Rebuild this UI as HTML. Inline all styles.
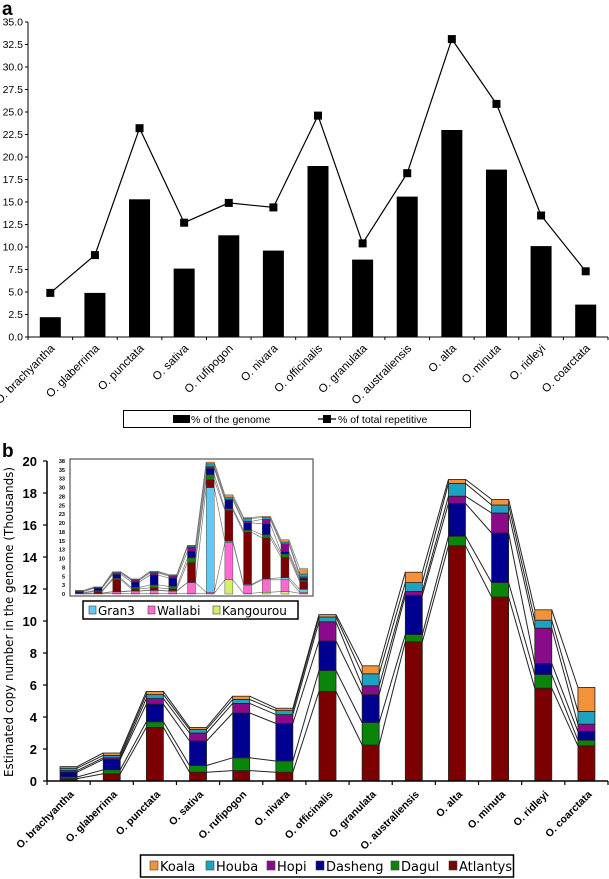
<!DOCTYPE html>
<html><head><meta charset="utf-8"><style>
html,body{margin:0;padding:0;background:#fff;width:609px;height:879px;overflow:hidden}
svg{display:block;font-family:"Liberation Sans",sans-serif}
</style></head><body>
<svg id="fig" width="609" height="879" viewBox="0 0 609 879">
<text x="2" y="15" font-size="19" font-weight="bold">a</text>
<text x="2" y="457" font-size="19" font-weight="bold">b</text>
<g id="ga"></g>
<g id="gb"></g>
<g id="gi"></g>
</svg>
<script>
const cats=["O. brachyantha","O. glaberrima","O. punctata","O. sativa","O. rufipogon","O. nivara","O. officinalis","O. granulata","O. australiensis","O. alta","O. minuta","O. ridleyi","O. coarctata"];
const genomePct=[2.2,4.9,15.3,7.6,11.3,9.6,19.0,8.6,15.6,23.0,18.6,10.1,3.6];
const repetPct=[4.9,9.1,23.2,12.7,14.9,14.4,24.6,10.4,18.2,33.1,25.9,13.5,7.3];
const ticksA=["0.0","2.5","5.0","7.5","10.0","12.5","15.0","17.5","20.0","22.5","25.0","27.5","30.0","32.5","35.0"];
const atlantys=[0.15,0.45,3.35,0.55,0.65,0.55,5.6,2.25,8.7,14.7,11.5,5.8,2.2];
const dagul=[0.1,0.25,0.35,0.42,0.8,0.7,1.3,1.4,0.45,0.6,0.9,0.85,0.35];
const dasheng=[0.3,0.65,1.1,1.53,2.8,2.35,1.85,1.75,2.45,2.05,3.1,0.7,0.55];
const hopi=[0.1,0.1,0.35,0.5,0.6,0.55,1.2,0.55,0.25,0.45,1.25,2.2,0.45];
const houba=[0.15,0.15,0.25,0.22,0.25,0.25,0.3,0.75,0.55,0.8,0.5,0.5,0.8];
const koala=[0.1,0.15,0.2,0.13,0.2,0.15,0.15,0.5,0.65,0.25,0.35,0.65,1.5];
const kangourou=[0,0.05,0.1,0.2,0.2,0.2,0.2,0.2,4.0,0.2,0.5,0.7,0.2];
const wallabi=[0.1,0.15,0.5,0.6,0.8,0.6,3.0,0.3,10.5,2.3,3.5,3.3,0.3];
const gran3=[0,0.05,0.1,0.1,0.1,0.1,0.1,29.5,0.4,0.2,0.3,0.6,0.8];
const ticksB=[0,2,4,6,8,10,12,14,16,18,20];
const ticksI=["0","3","5","8","10","13","15","18","20","23","25","28","30","33","35","38"];

const NS="http://www.w3.org/2000/svg";
function mk(parent,tag,attrs,txt){const e=document.createElementNS(NS,tag);for(const k in attrs)e.setAttribute(k,attrs[k]);if(txt!==undefined)e.textContent=txt;parent.appendChild(e);return e;}
const slug=s=>s.toLowerCase().replace(/[^a-z0-9]+/g,'-').replace(/^-|-$/g,'');

/* ---------- chart a ---------- */
const ga=document.getElementById('ga');
const aL=28,aR=608,aB=337,aPx=9,aStep=(aR-aL)/cats.length;
const xA=i=>aL+aStep*(i+0.5), yA=v=>aB-v*aPx;
let e;
e=mk(ga,'line',{x1:aL,y1:aB-35*aPx,x2:aL,y2:aB,stroke:'#000','stroke-width':1});


e=mk(ga,'line',{x1:aL,y1:aB,x2:aR,y2:aB,stroke:'#000','stroke-width':1});


ticksA.forEach((t,k)=>{const v=k*2.5;
 e=mk(ga,'line',{x1:aL-3,y1:yA(v),x2:aL,y2:yA(v),stroke:'#000'});
 
 
 e=mk(ga,'text',{x:aL-5,y:yA(v)+3.5,'font-size':10.5,'text-anchor':'end'},t);
 
 
});
for(let i=0;i<=cats.length;i++){
 e=mk(ga,'line',{x1:aL+aStep*i,y1:aB,x2:aL+aStep*i,y2:aB+3,stroke:'#000'});
 
 
}
cats.forEach((c,i)=>{
 e=mk(ga,'rect',{x:xA(i)-10.5,y:yA(genomePct[i]),width:21,height:genomePct[i]*aPx,fill:'#000'});
 
 
 e=mk(ga,'text',{x:0,y:0,'font-size':11.5,'text-anchor':'end',transform:`translate(${xA(i)+5},${aB+12}) rotate(-45)`},c);
 
 
});
e=mk(ga,'polyline',{points:repetPct.map((v,i)=>xA(i)+','+yA(v)).join(' '),fill:'none',stroke:'#000','stroke-width':1.2});


repetPct.forEach((v,i)=>{
 e=mk(ga,'rect',{x:xA(i)-4,y:yA(v)-4,width:8,height:8,fill:'#000'});
 
 
});
e=mk(ga,'rect',{x:123.5,y:410.5,width:347,height:17,fill:'#fff',stroke:'#000'});


e=mk(ga,'rect',{x:173,y:415,width:17,height:8,fill:'#000'});


e=mk(ga,'text',{x:191,y:423,'font-size':10.5},'% of the genome');


e=mk(ga,'line',{x1:318,y1:419,x2:336,y2:419,stroke:'#000','stroke-width':1.2});


e=mk(ga,'rect',{x:323,y:415,width:8,height:8,fill:'#000'});


e=mk(ga,'text',{x:338,y:423,'font-size':10.5},'% of total repetitive');



/* ---------- chart b ---------- */
const gb=document.getElementById('gb');
const bL=47,bR=608,bB=781,bPx=16,bStep=(bR-bL)/cats.length,bw=17;
const xB=i=>bL+bStep*(i+0.5), yB=v=>bB-v*bPx;
const series=[["Atlantys",atlantys,"#7d0000"],["Dagul",dagul,"#0a850a"],["Dasheng",dasheng,"#000090"],["Hopi",hopi,"#8b0a8b"],["Houba",houba,"#1ea2c0"],["Koala",koala,"#f3923a"]];
const cum=[];let run=cats.map(()=>0);
series.forEach(s=>{const lo=run.slice();run=run.map((r,i)=>r+s[1][i]);cum.push([lo,run.slice()]);});
cum.forEach((c,k)=>{
 for(let i=0;i<cats.length-1;i++){
  e=mk(gb,'line',{x1:xB(i)+bw/2,y1:yB(c[1][i]),x2:xB(i+1)-bw/2,y2:yB(c[1][i+1]),stroke:'#222','stroke-width':1});
  
  
 }
});
series.forEach((s,k)=>{
 cats.forEach((c,i)=>{
  e=mk(gb,'rect',{x:xB(i)-bw/2,y:yB(cum[k][1][i]),width:bw,height:s[1][i]*bPx,fill:s[2],stroke:'#222','stroke-width':0.8});
  
  
 });
});
e=mk(gb,'line',{x1:bL,y1:yB(20),x2:bL,y2:bB,stroke:'#000','stroke-width':1.5});


e=mk(gb,'line',{x1:bL,y1:bB,x2:bR,y2:bB,stroke:'#000','stroke-width':1.5});


ticksB.forEach(v=>{
 e=mk(gb,'line',{x1:bL-4,y1:yB(v),x2:bL,y2:yB(v),stroke:'#000','stroke-width':1.2});
 
 
 e=mk(gb,'text',{x:bL-10,y:yB(v)+5,'font-size':13,'font-weight':'bold','text-anchor':'end'},String(v));
 
 
});
for(let i=0;i<=cats.length;i++){
 e=mk(gb,'line',{x1:bL+bStep*i,y1:bB,x2:bL+bStep*i,y2:bB+4,stroke:'#000','stroke-width':1.2});
 
 
}
cats.forEach((c,i)=>{
 e=mk(gb,'text',{x:0,y:0,'font-size':10.5,'font-weight':'bold','text-anchor':'end',transform:`translate(${xB(i)+6},${bB+14}) rotate(-45)`},c);
 
 
});
e=mk(gb,'text',{x:0,y:0,'font-size':12,'text-anchor':'middle',transform:'translate(13,622) rotate(-90)','font-family':'"DejaVu Sans",sans-serif',textLength:310,lengthAdjust:'spacingAndGlyphs'},'Estimated copy number in the genome (Thousands)');


e=mk(gb,'rect',{x:140.5,y:855,width:373,height:22,fill:'#fff',stroke:'#000','stroke-width':1.5});


const legB=[["Koala",150],["Houba",206],["Hopi",267],["Dasheng",316],["Dagul",391],["Atlantys",449]];
legB.forEach(([n,x])=>{
 const s=series.find(t=>t[0]===n);
 e=mk(gb,'rect',{x:x,y:861,width:8,height:9,fill:s[2],stroke:'#444','stroke-width':0.6});
 
 
 e=mk(gb,'text',{x:x+10,y:871,'font-size':13,'font-family':'"DejaVu Sans",sans-serif'},n);
 
 
});

/* ---------- inset ---------- */
const gi=document.getElementById('gi');
const iL=70,iR=313,iT=459,iB=594,iMax=37.5,iStep=(iR-iL)/cats.length,iw=8;
const xI=i=>iL+iStep*(i+0.5), yI=v=>iB-v*(iB-iT-2)/iMax;
e=mk(gi,'rect',{x:iL,y:iT,width:iR-iL,height:iB-iT+2,fill:'#fff',stroke:'#555','stroke-width':1.2});


const iser=[["Kangourou",kangourou,"#d4f06a"],["Wallabi",wallabi,"#ff6ad0"],["Gran3",gran3,"#5ec9f7"]].concat(series);
const icum=[];let irun=cats.map(()=>0);
iser.forEach(s=>{irun=irun.map((r,i)=>r+s[1][i]);icum.push(irun.slice());});
icum.forEach((c,k)=>{
 for(let i=0;i<cats.length-1;i++){
  e=mk(gi,'line',{x1:xI(i)+iw/2,y1:yI(c[i]),x2:xI(i+1)-iw/2,y2:yI(c[i+1]),stroke:'#777','stroke-width':0.7});
  
  
 }
});
iser.forEach((s,k)=>{
 cats.forEach((c,i)=>{
  const top=icum[k][i];
  e=mk(gi,'rect',{x:xI(i)-iw/2,y:yI(top),width:iw,height:s[1][i]*(iB-iT-2)/iMax,fill:s[2],stroke:'#333','stroke-width':0.4});
  
  
 });
});
ticksI.forEach((t,k)=>{
 e=mk(gi,'text',{x:iL-5,y:yI(k*2.5)+2,'font-size':5.5,'font-weight':'bold','text-anchor':'end'},t);
 
 
});
e=mk(gi,'rect',{x:83,y:601,width:215,height:18,fill:'#fff',stroke:'#000','stroke-width':1.5});


[["Gran3",89,"#5ec9f7"],["Wallabi",148,"#ff6ad0"],["Kangourou",213,"#d4f06a"]].forEach(([n,x,col])=>{
 e=mk(gi,'rect',{x:x,y:606,width:7,height:8,fill:col,stroke:'#444','stroke-width':0.6});
 
 
 e=mk(gi,'text',{x:x+9,y:615,'font-size':12,'font-family':'"DejaVu Sans",sans-serif'},n);
 
 
});
</script>
</body></html>
